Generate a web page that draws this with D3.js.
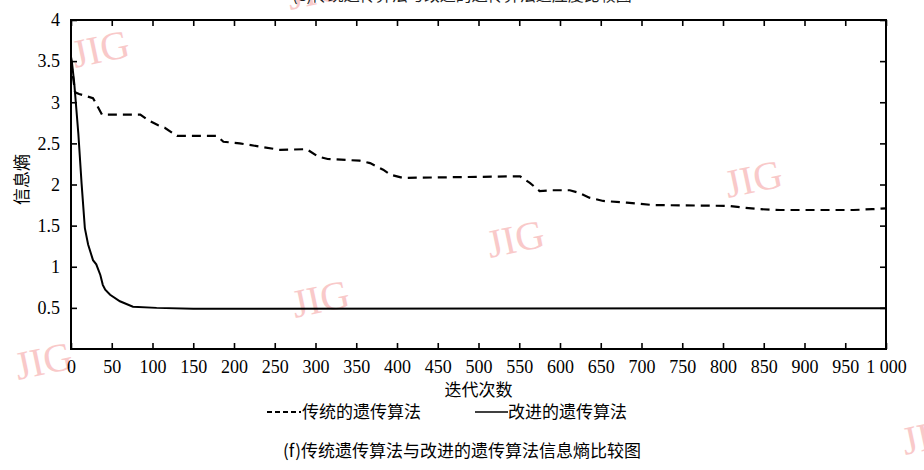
<!DOCTYPE html>
<html><head><meta charset="utf-8">
<script src="https://cdn.jsdelivr.net/npm/d3@7"></script>
<style>body{margin:0;background:#fff}svg{display:block}.num{font-family:"Liberation Serif","DejaVu Serif",serif}</style>
</head><body><svg id="c" width="924" height="470"></svg>
<script>
const xTicks = [0,50,100,150,200,250,300,350,400,450,500,550,600,650,700,750,800,850,900,950,1000];
const xTickLabels = ["0","50","100","150","200","250","300","350","400","450","500","550","600","650","700","750","800","850","900","950","1 000"];
const yTicks = [0.5,1,1.5,2,2.5,3,3.5,4];
const yTickLabels = ["0.5","1","1.5","2","2.5","3","3.5","4"];
const tradIter = [0,5,10,27,38,85,95,107,115,130,179,187,207,232,257,289,303,315,354,367,383,392,407,551,563,575,590,612,623,636,653,682,714,807,824,845,870,960,983,1000];
const tradEntropy = [3.5,3.12,3.1,3.05,2.85,2.85,2.78,2.72,2.69,2.59,2.59,2.52,2.5,2.46,2.42,2.43,2.34,2.31,2.29,2.26,2.18,2.12,2.08,2.1,2.02,1.92,1.93,1.93,1.9,1.84,1.8,1.78,1.75,1.74,1.72,1.7,1.69,1.69,1.7,1.71];
const impIter = [0,1,4,9,13,17,21,27,31,36,39,42,48,60,76,105,150,1000];
const impEntropy = [3.55,3.5,3.23,2.62,2.01,1.47,1.27,1.08,1.03,0.9,0.78,0.72,0.66,0.58,0.515,0.5,0.49,0.495];
const seriesNames = ["传统的遗传算法","改进的遗传算法"];
const xTitle = "迭代次数", yTitle = "信息熵";
const caption = "(f)传统遗传算法与改进的遗传算法信息熵比较图";
const topCaption = "(e)传统遗传算法与改进的遗传算法适应度比较图";

const svg = d3.select("#c");
const L=71,R=886,T=20,B=349;
const x = d3.scaleLinear().domain([0,1000]).range([L,R]);
const y = d3.scaleLinear().domain([0,4]).range([B,T]);
const cjk = "Noto Sans CJK SC";

// watermarks
const wm = [[75,68],[295,318],[490,258],[728,198],[18,380],[905,455],[290,10]];
svg.append("g").selectAll("text").data(wm).join("text")
  .attr("class","num")
  .attr("transform",d=>`translate(${d[0]},${d[1]}) rotate(-12)`)
  .attr("font-size",40).attr("fill","#f7b7b7").attr("opacity",0.75)
  .text("JIG");

svg.append("text").attr("x",462).attr("y",1).attr("text-anchor","middle")
  .style("font-family",cjk).attr("font-size",16).attr("fill","#222").text(topCaption);

// frame
svg.append("rect").attr("x",L).attr("y",T).attr("width",R-L).attr("height",B-T)
  .attr("fill","none").attr("stroke","#000").attr("stroke-width",2);

const tl=6;
const gx = svg.append("g").attr("transform",`translate(0,${B})`)
  .call(d3.axisBottom(x).tickValues(xTicks).tickSizeInner(-tl).tickSizeOuter(0).tickPadding(tl+5)
  .tickFormat((d,i)=>xTickLabels[i]));
const gxt = svg.append("g").attr("transform",`translate(0,${T})`)
  .call(d3.axisTop(x).tickValues(xTicks).tickSizeInner(-tl).tickSizeOuter(0).tickFormat(""));
const gy = svg.append("g").attr("transform",`translate(${L},0)`)
  .call(d3.axisLeft(y).tickValues(yTicks).tickSizeInner(-tl).tickSizeOuter(0).tickPadding(tl+5)
  .tickFormat((d,i)=>yTickLabels[i]));
const gyr = svg.append("g").attr("transform",`translate(${R},0)`)
  .call(d3.axisRight(y).tickValues(yTicks).tickSizeInner(-tl).tickSizeOuter(0).tickFormat(""));
[gx,gxt,gy,gyr].forEach(g=>{
  g.attr("font-family",null);
  g.select(".domain").remove();
  g.selectAll("line").attr("stroke","#000").attr("stroke-width",1.6);
  g.selectAll("text").attr("class","num").attr("font-size",18).attr("fill","#000");
});

const line = d3.line().x(d=>x(d[0])).y(d=>y(d[1])).curve(d3.curveLinear);
const trad = tradIter.map((v,i)=>[v,tradEntropy[i]]);
const imp = impIter.map((v,i)=>[v,impEntropy[i]]);
svg.append("path").attr("d",line(trad)).attr("fill","none").attr("stroke","#000")
  .attr("stroke-width",2.2).attr("stroke-dasharray","9,6");
svg.append("path").attr("d",line(imp)).attr("fill","none").attr("stroke","#000")
  .attr("stroke-width",2);

svg.append("text").attr("x",(L+R)/2).attr("y",396).attr("text-anchor","middle")
  .style("font-family",cjk).attr("font-size",17).text(xTitle);
svg.append("text").attr("transform",`translate(28,${(T+B)/2-5}) rotate(-90)`).attr("text-anchor","middle")
  .style("font-family",cjk).attr("font-size",17).text(yTitle);

// legend
const ly=412;
svg.append("line").attr("x1",267).attr("x2",301).attr("y1",ly).attr("y2",ly)
  .attr("stroke","#000").attr("stroke-width",2).attr("stroke-dasharray","5,3");
svg.append("text").attr("x",302).attr("y",ly+6).style("font-family",cjk).attr("font-size",17).text(seriesNames[0]);
svg.append("line").attr("x1",475).attr("x2",508).attr("y1",ly).attr("y2",ly)
  .attr("stroke","#000").attr("stroke-width",1.5);
svg.append("text").attr("x",508).attr("y",ly+6).style("font-family",cjk).attr("font-size",17).text(seriesNames[1]);

svg.append("text").attr("x",462).attr("y",457).attr("text-anchor","middle")
  .style("font-family",cjk).attr("font-size",17).text(caption);
</script></body></html>
